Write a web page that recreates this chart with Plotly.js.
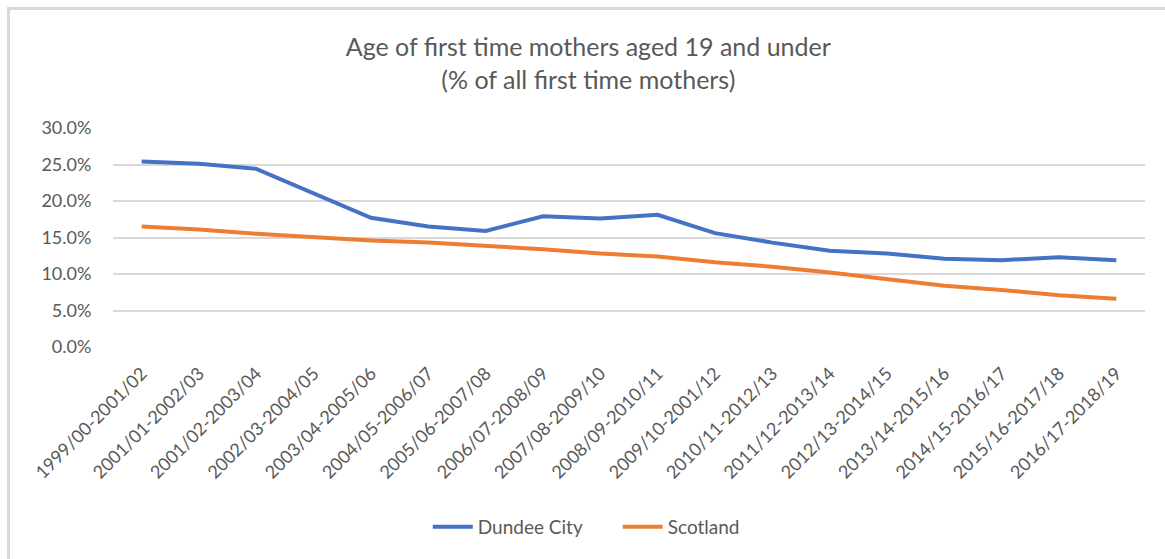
<!DOCTYPE html>
<html>
<head>
<meta charset="utf-8">
<script src="https://cdn.plot.ly/plotly-3.0.1.min.js"></script>
<style>
html,body{margin:0;padding:0;background:#fff;}
#wrap{position:relative;width:1165px;height:559px;}
#chart{position:absolute;left:0;top:0;width:1165px;height:559px;}
#bl{position:absolute;left:7px;top:7px;width:3px;height:552px;background:#d9d9d9;}
#bt{position:absolute;left:7px;top:7px;width:1158px;height:3px;background:#d9d9d9;}
</style>
</head>
<body>
<div id="wrap">
<div id="chart"></div>
<div id="bl"></div>
<div id="bt"></div>
</div>
<script>
const categories = [
  "1999/00-2001/02","2001/01-2002/03","2001/02-2003/04","2002/03-2004/05",
  "2003/04-2005/06","2004/05-2006/07","2005/06-2007/08","2006/07-2008/09",
  "2007/08-2009/10","2008/09-2010/11","2009/10-2001/12","2010/11-2012/13",
  "2011/12-2013/14","2012/13-2014/15","2013/14-2015/16","2014/15-2016/17",
  "2015/16-2017/18","2016/17-2018/19"
];
const dundeeCity = [25.4, 25.1, 24.4, 21.1, 17.7, 16.5, 15.9, 17.9, 17.6, 18.1,
                    15.6, 14.3, 13.2, 12.8, 12.1, 11.9, 12.3, 11.9];
const scotland = [16.5, 16.1, 15.5, 15.0, 14.6, 14.3, 13.9, 13.4, 12.8, 12.4,
                  11.6, 11.0, 10.2, 9.3, 8.4, 7.8, 7.1, 6.6];
const yTicks = [0, 5, 10, 15, 20, 25, 30];

const font = "Lato, 'Liberation Sans', Arial, sans-serif";
const grey = "#595959";

const traces = [
  {x: categories, y: dundeeCity, name: "Dundee City", type: "scatter", mode: "lines",
   line: {color: "#4472C4", width: 4}},
  {x: categories, y: scotland, name: "Scotland", type: "scatter", mode: "lines",
   line: {color: "#ED7D31", width: 4}}
];

const layout = {
  width: 1165, height: 559,
  margin: {l: 113, r: 20, t: 128, b: 212},
  paper_bgcolor: "#fff", plot_bgcolor: "#fff",
  font: {family: font, color: grey, size: 18},
  title: {
    text: "Age of first time mothers aged 19 and under<br>(% of all first time mothers)",
    font: {family: font, size: 25, color: grey},
    x: 0.505, xanchor: "center", y: 0.899, yanchor: "middle"
  },
  xaxis: {
    type: "category", range: [-0.5, 17.5], tickangle: -45,
    showgrid: false, zeroline: false, showline: false,
    ticks: "outside", ticklen: 8, tickcolor: "rgba(0,0,0,0)",
    tickfont: {family: font, size: 18, color: grey}, fixedrange: true
  },
  yaxis: {
    range: [0, 30], tickvals: yTicks, ticktext: yTicks.map(v => v.toFixed(1) + "%"),
    showgrid: true, gridcolor: "#d9d9d9", gridwidth: 2,
    zeroline: false, showline: false,
    ticks: "outside", ticklen: 17, tickcolor: "rgba(0,0,0,0)",
    tickfont: {family: font, size: 18, color: grey}, fixedrange: true
  },
  showlegend: true,
  legend: {
    orientation: "h", x: 0.305, xanchor: "left", y: -0.822, yanchor: "middle",
    font: {family: font, size: 19, color: grey}, itemwidth: 40,
    entrywidth: 135, entrywidthmode: "pixels"
  }
};

Plotly.newPlot("chart", traces, layout, {displayModeBar: false, staticPlot: true});
</script>
</body>
</html>
